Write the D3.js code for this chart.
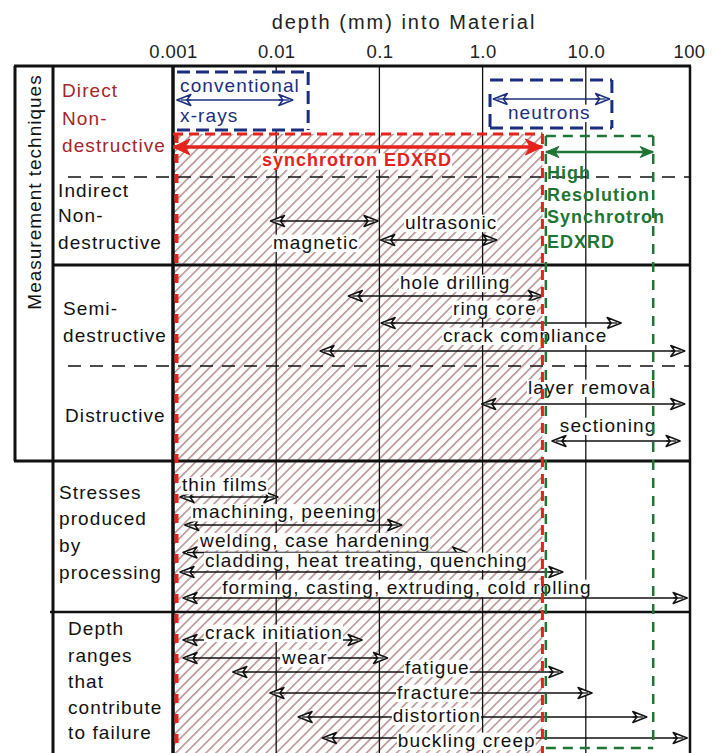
<!DOCTYPE html>
<html><head><meta charset="utf-8">
<script src="https://cdn.jsdelivr.net/npm/d3@7"></script>
<style>
html,body{margin:0;padding:0;background:#fff;}
svg{display:block;}
text{font-family:"Liberation Sans",Arial,Helvetica,sans-serif;}
</style></head><body>
<svg id="chart" width="713" height="753"></svg>
<script>
// ---- depth axis ----
const depthTicks = [0.001, 0.01, 0.1, 1, 10, 100];
const depthTickLabels = ["0.001", "0.01", "0.1", "1.0", "10.0", "100"];

// ---- table rows (lane units, 0 = top of table) ----
const groupTops = [0, 4.44, 7.96, 12, 15.8, 21.84];
const groupBottom = 27.6;
const groupLines = [
  ["Direct", "Non-", "destructive"],
  ["Indirect", "Non-", "destructive"],
  ["Semi-", "destructive"],
  ["Distructive"],
  ["Stresses", "produced", "by", "processing"],
  ["Depth", "ranges", "that", "contribute", "to failure"]
];
const groupLineLanes = [
  [0.96, 2.08, 3.16],
  [4.96, 5.96, 7.04],
  [9.68, 10.76],
  [13.96],
  [17.04, 18.08, 19.16, 20.24],
  [22.48, 23.56, 24.6, 25.64, 26.64]
];

// ---- measurement techniques and stress/failure ranges (depth in mm) ----
const techNames = ["magnetic", "ultrasonic", "hole drilling", "ring core", "crack compliance",
  "layer removal", "sectioning",
  "thin films", "machining, peening", "welding, case hardening",
  "cladding, heat treating, quenching", "forming, casting, extruding, cold rolling",
  "crack initiation", "wear", "fatigue", "fracture", "distortion", "buckling creep"];
const techMin = [0.0088, 0.103, 0.05, 0.104, 0.0266, 0.98, 4.7,
  0.00117, 0.0013, 0.00125, 0.00117, 0.00125,
  0.00125, 0.00125, 0.0038, 0.0087, 0.0163, 0.028];
const techMax = [0.097, 1.37, 3.8, 22, 91, 91, 82,
  0.0104, 0.165, 0.7, 6.0, 96,
  0.068, 0.12, 6.0, 11.5, 39, 96];
const techLane = [6.2, 6.96, 9.2, 10.28, 11.4, 13.52, 15.0,
  17.24, 18.36, 19.46, 20.24, 21.28,
  22.96, 23.68, 24.24, 25.08, 26.04, 26.88];
const techLabelAt = [0.0093, 0.177, 0.158, 0.517, 0.413, 2.75, 5.6,
  0.00122, 0.00153, 0.00183, 0.00204, 0.003,
  0.00204, 0.0114, 0.177, 0.148, 0.135, 0.151];
const techLabelLane = [7.04, 6.24, 8.64, 9.68, 10.76, 12.84, 14.36,
  16.74, 17.82, 18.97, 19.76, 20.84,
  22.64, 23.64, 24.04, 25.04, 25.96, 26.96];

// ---- diffraction probes ----
const probeNames = ["conventional x-rays", "neutrons", "synchrotron EDXRD", "High Resolution Synchrotron EDXRD"];
const probeMin = [0.00109, 1.27, 0.001, 4.1];
const probeMax = [0.0145, 17, 3.8, 45];
const probeLane = [1.36, 1.32, 3.24, 3.44];
const probeBoxMin = [0.001, 1.18, 0.001, 4.1];
const probeBoxMax = [0.0204, 17.9, 3.8, 45];
const probeBoxTop = [0.24, 0.56, 2.72, 2.8];
const probeBoxBottom = [2.56, 2.48, 27.6, 27.28];
const probeLabelLines = [["conventional", "x-rays"], ["neutrons"], ["synchrotron EDXRD"],
  ["High", "Resolution", "Synchrotron", "EDXRD"]];
const probeLabelLanes = [[0.76, 1.96], [1.84], [3.76], [4.28, 5.16, 6.04, 7.04]];
const probeLabelAt = [0.00117, 1.76, 0.0073, 4.2];

// ---- styling ----
const RED = "#e5221b", RED_TEXT = "#a3262a", BLUE = "#1b2e7e", GREEN = "#1f7534", INK = "#111";
const probeColors = [BLUE, BLUE, RED, GREEN];
const FONT = 19, SPACING = 1.1;

const svg = d3.select("#chart");
const x = d3.scaleLog().domain([0.001, 100]).range([173, 689]);
const y = d3.scaleLinear().domain([0, 1]).range([66, 91]);
const yEnd = y(groupBottom);
const xRight = x(100) + 1;

svg.append("rect").attr("width", 713).attr("height", 753).attr("fill", "#fff");

const defs = svg.append("defs");
defs.append("pattern").attr("id", "hatch").attr("patternUnits", "userSpaceOnUse")
  .attr("width", 7.1).attr("height", 7.1).attr("patternTransform", "rotate(45)")
  .append("line").attr("x1", 3.5).attr("x2", 3.5).attr("y1", 0).attr("y2", 7.1)
  .attr("stroke", "#7a2c2c").attr("stroke-width", 0.9).attr("stroke-opacity", 0.9);

// hatched synchrotron region
svg.append("rect")
  .attr("x", x(probeBoxMin[2])).attr("y", y(probeBoxTop[2]))
  .attr("width", x(probeBoxMax[2]) - x(probeBoxMin[2]))
  .attr("height", y(probeBoxBottom[2]) - y(probeBoxTop[2]))
  .attr("fill", "url(#hatch)");

// decade grid lines
svg.append("g").selectAll("line").data(depthTicks.slice(1, -1)).join("line")
  .attr("x1", d => x(d)).attr("x2", d => x(d)).attr("y1", y(0)).attr("y2", yEnd)
  .attr("stroke", INK).attr("stroke-width", 1.3);

// table frame
const frame = svg.append("g").attr("stroke", INK).attr("fill", "none");
function hline(yy, x1, x2, w, dash) {
  frame.append("line").attr("x1", x1).attr("x2", x2).attr("y1", yy).attr("y2", yy)
    .attr("stroke-width", w).attr("stroke-dasharray", dash || null);
}
function vline(xx, y1, y2, w) {
  frame.append("line").attr("x1", xx).attr("x2", xx).attr("y1", y1).attr("y2", y2).attr("stroke-width", w);
}
hline(y(0), 14, xRight + 1, 3);
hline(y(groupTops[1]), 68, xRight, 1.5, "13 9");
hline(y(groupTops[2]), 53, xRight, 3);
hline(y(groupTops[3]), 68, xRight, 1.5, "13 9");
hline(y(groupTops[4]), 14, xRight, 3);
hline(y(groupTops[5]), 50, xRight, 2.5);
vline(15, y(0), y(groupTops[4]), 3);
vline(53, y(0), yEnd, 3);
vline(xRight, y(0), yEnd, 2.5);
vline(x(0.001), y(0), yEnd, 3.5);

// arrowheads
function openHead(g, tx, ty, dir, color) {
  g.append("path")
    .attr("d", `M${tx},${ty}L${tx - dir * 14},${ty - 5.5}L${tx - dir * 10},${ty}L${tx - dir * 14},${ty + 5.5}Z`)
    .attr("fill", "#fff").attr("stroke", color).attr("stroke-width", 1.5).attr("stroke-linejoin", "round");
  g.append("line").attr("x1", tx - dir * 14).attr("x2", tx - dir * 4).attr("y1", ty).attr("y2", ty)
    .attr("stroke", color).attr("stroke-width", 1.3);
}
function solidHead(g, tx, ty, dir, color, len, half) {
  g.append("path")
    .attr("d", `M${tx},${ty}L${tx - dir * len},${ty - half}L${tx - dir * len * 0.72},${ty}L${tx - dir * len},${ty + half}Z`)
    .attr("fill", color).attr("stroke", color).attr("stroke-width", 1);
}

// technique ranges
const arrows = svg.append("g");
techNames.forEach((n, i) => {
  const yy = y(techLane[i]);
  arrows.append("line").attr("x1", x(techMin[i])).attr("x2", x(techMax[i]))
    .attr("y1", yy).attr("y2", yy).attr("stroke", INK).attr("stroke-width", 1.4);
  openHead(arrows, x(techMin[i]), yy, -1, INK);
  openHead(arrows, x(techMax[i]), yy, 1, INK);
});

function boxedText(g, txt, px, py, opts) {
  const t = g.append("text").attr("x", px).attr("y", py).attr("dy", "0.35em")
    .attr("font-size", opts.size || FONT).attr("letter-spacing", opts.spacing == null ? SPACING : opts.spacing)
    .attr("fill", opts.color || INK).attr("font-weight", opts.bold ? "bold" : null)
    .attr("text-anchor", opts.anchor || "start").text(txt);
  if (opts.bg) {
    const b = t.node().getBBox();
    g.insert("rect", () => t.node())
      .attr("x", b.x - 1).attr("y", b.y + 3).attr("width", b.width + 1).attr("height", b.height - 3.6)
      .attr("fill", "#fff");
  }
  return t;
}

const techLabels = svg.append("g");
techNames.forEach((n, i) => {
  boxedText(techLabels, n, x(techLabelAt[i]), y(techLabelLane[i]), { bg: true });
});

// x-ray box interior
svg.append("rect").attr("x", x(probeBoxMin[0]) + 2).attr("y", y(probeBoxTop[0]))
  .attr("width", x(probeBoxMax[0]) - x(probeBoxMin[0]) - 2)
  .attr("height", y(probeBoxBottom[0]) - y(probeBoxTop[0])).attr("fill", "#fff");

// probe boxes (dashed)
const boxes = svg.append("g").attr("fill", "none");
function dashed(x1, y1, x2, y2, color, w, dash) {
  boxes.append("line").attr("x1", x1).attr("y1", y1).attr("x2", x2).attr("y2", y2)
    .attr("stroke", color).attr("stroke-width", w).attr("stroke-dasharray", dash);
}
// conventional x-rays
{
  const l = x(probeBoxMin[0]), r = x(probeBoxMax[0]), t = y(probeBoxTop[0]), b = y(probeBoxBottom[0]);
  dashed(l + 4, t, r, t, BLUE, 3, "13 6");
  dashed(r, t, r, b, BLUE, 3, "13 6");
  dashed(l + 4, b, r, b, BLUE, 3, "13 6");
}
// neutrons
{
  const l = x(probeBoxMin[1]), r = x(probeBoxMax[1]), t = y(probeBoxTop[1]), b = y(probeBoxBottom[1]);
  dashed(l, t, r, t, BLUE, 3, "13 7");
  dashed(r, t, r, b, BLUE, 3, "13 7");
  dashed(l, b, r, b, BLUE, 3, "13 7");
  dashed(l, t + 14, l, b, BLUE, 3, "13 7");
}
// synchrotron EDXRD
{
  const l = x(probeBoxMin[2]), r = x(probeBoxMax[2]), t = y(probeBoxTop[2]), b = y(probeBoxBottom[2]);
  dashed(l, t, r, t, RED, 3, "10 6");
  dashed(r, t, r, b, RED, 3, "10 7");
  dashed(l + 3.5, t, l + 3.5, b, RED, 4, "9 11");
}
// high resolution synchrotron EDXRD
{
  const l = x(probeBoxMin[3]), r = x(probeBoxMax[3]), t = y(probeBoxTop[3]), b = y(probeBoxBottom[3]);
  dashed(l, t, r, t, GREEN, 2.5, "10 7");
  dashed(r, t, r, b, GREEN, 2.5, "10 8");
  dashed(l, b, r, b, GREEN, 2.5, "10 7");
  dashed(l, t, l, b, GREEN, 2.5, "10 8");
}

// probe arrows
const probeArrows = svg.append("g");
probeNames.forEach((n, i) => {
  const yy = y(probeLane[i]), c = probeColors[i];
  const x1 = x(probeMin[i]), x2 = x(probeMax[i]);
  const w = i === 2 ? 3.5 : (i === 3 ? 2.5 : 1.5);
  probeArrows.append("line").attr("x1", x1).attr("x2", x2).attr("y1", yy).attr("y2", yy)
    .attr("stroke", c).attr("stroke-width", w);
  if (i < 2) {
    openHead(probeArrows, x1, yy, -1, c);
    openHead(probeArrows, x2, yy, 1, c);
  } else if (i === 2) {
    solidHead(probeArrows, x1, yy, -1, c, 17, 8);
    solidHead(probeArrows, x2, yy, 1, c, 17, 8);
  } else {
    solidHead(probeArrows, x1, yy, -1, c, 13, 5.5);
    solidHead(probeArrows, x2, yy, 1, c, 13, 5.5);
  }
});

// probe labels
const probeText = svg.append("g");
probeNames.forEach((n, i) => {
  probeLabelLines[i].forEach((line, j) => {
    boxedText(probeText, line, x(probeLabelAt[i]), y(probeLabelLanes[i][j]), {
      color: probeColors[i], bold: i >= 2, size: i >= 2 ? 18 : FONT, spacing: i >= 2 ? 1 : SPACING,
      bg: i === 1 || i === 2
    });
  });
});

// row group labels
const groupIndent = [62, 58, 63, 65, 59, 68];
const groupText = svg.append("g");
groupLines.forEach((lines, gi) => {
  lines.forEach((line, j) => {
    boxedText(groupText, line, groupIndent[gi], y(groupLineLanes[gi][j]), { color: gi === 0 ? RED_TEXT : INK });
  });
});

// side title
svg.append("text").attr("transform", `translate(34,${y(5.04)}) rotate(-90)`)
  .attr("text-anchor", "middle").attr("dy", "0.35em")
  .attr("font-size", FONT).attr("letter-spacing", 1).attr("fill", INK)
  .text("Measurement techniques");

// top axis
const axisG = svg.append("g").attr("transform", "translate(0,52)")
  .call(d3.axisTop(x).tickValues(depthTicks).tickFormat((d, i) => depthTickLabels[i]).tickSize(0).tickPadding(0));
axisG.select(".domain").remove();
axisG.selectAll("text").attr("y", 0).attr("dy", "0.35em").attr("font-size", 18.5)
  .attr("letter-spacing", 0.4).attr("fill", "#222");

svg.append("text").attr("x", 404).attr("y", 22).attr("dy", "0.35em").attr("text-anchor", "middle")
  .attr("font-size", 20).attr("letter-spacing", 2).attr("fill", "#222")
  .text("depth (mm) into Material");
</script>
</body></html>
